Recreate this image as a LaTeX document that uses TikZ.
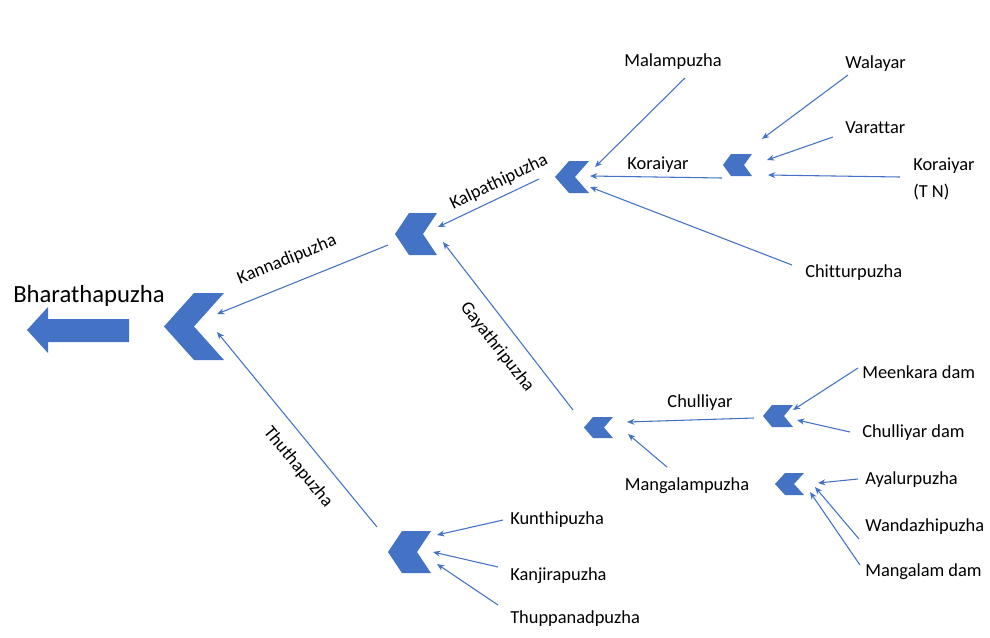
\documentclass[tikz,border=0pt]{standalone}
\usepackage{fontspec}
\setmainfont[Ligatures=NoCommon]{Carlito}
\usetikzlibrary{arrows.meta}
\definecolor{obl}{HTML}{4472C4}
\newcommand\mychev[5]{% x1 x2 y1 y2 depth
  \pgfmathsetmacro\chevmid{(#3+#4)/2}
  \fill[obl] (#1,\chevmid) -- (#1+#5,#3) -- (#2,#3) -- (#2-#5,\chevmid) -- (#2,#4) -- (#1+#5,#4) -- cycle;}
\begin{document}
\begin{tikzpicture}[x=0.75pt,y=-0.75pt,
  flow/.style={draw=obl, line width=0.8pt, -{Stealth[length=5.5pt,width=4.5pt]}},
  lbl/.style={font=\fontsize{13.8}{16}\selectfont, inner sep=0pt, text=black},
  big/.style={font=\fontsize{18.5}{22}\selectfont, inner sep=0pt, text=black}]
\useasboundingbox (0,0) rectangle (990,637);
\fill[white] (0,0) rectangle (990,637);

% main outflow arrow
\fill[obl] (27,330) -- (48,307) -- (48,319) -- (129,319) -- (129,342) -- (48,342) -- (48,353) -- cycle;
\node[big, anchor=west] (bharatha) at (13,296) {Bharathapuzha};

% chevrons (junctions)
\mychev{164}{224}{293}{360}{30}
\mychev{395}{437}{213}{255}{14}
\mychev{555}{589}{161}{193}{14}
\mychev{723}{752}{154}{176}{8}
\mychev{584}{613}{417}{438}{9}
\mychev{763}{793}{405}{427}{9}
\mychev{775}{804}{473}{495}{10}
\mychev{388}{431}{531}{573}{14}

% connector end points
\coordinate (kanS) at (388,245);  \coordinate (kanE) at (217,314);
\coordinate (thuS) at (377,527);  \coordinate (thuE) at (217,332);
\coordinate (kalS) at (539,179);  \coordinate (kalE) at (438,227);
\coordinate (gayS) at (573,410);  \coordinate (gayE) at (443,242);
\coordinate (chuS) at (754,418);  \coordinate (chuE) at (627,422);
\coordinate (manS) at (667,467);  \coordinate (manE) at (628,434);
\coordinate (meeS) at (858,368);  \coordinate (meeE) at (793,410);
\coordinate (cdmS) at (850,432);  \coordinate (cdmE) at (797,420);
\coordinate (ayaS) at (858,479);  \coordinate (ayaE) at (818,483);
\coordinate (wanS) at (859,539);  \coordinate (wanE) at (815,487);
\coordinate (mdmS) at (860,565);  \coordinate (mdmE) at (810,492);
\coordinate (kunS) at (503,520);  \coordinate (kunE) at (437,535);
\coordinate (kajS) at (498,567);  \coordinate (kajE) at (433,552);
\coordinate (tppS) at (498,605);  \coordinate (tppE) at (437,564);
\coordinate (malS) at (685,78);   \coordinate (malE) at (595,167);
\coordinate (walS) at (848,75);   \coordinate (walE) at (762,139);
\coordinate (varS) at (833,137);  \coordinate (varE) at (767,160);
\coordinate (ktnS) at (900,177);  \coordinate (ktnE) at (768,175);
\coordinate (korS) at (722,178);  \coordinate (korE) at (590,176);
\coordinate (chiS) at (792,265);  \coordinate (chiE) at (590,187);

% connectors
\foreach \c in {kan,thu,kal,gay,chu,man,mee,cdm,aya,wan,mdm,kun,kaj,tpp,mal,wal,var,ktn,kor,chi}
  \draw[flow] (\c S) -- (\c E);

% labels along branches
\node[lbl, rotate=22.3] (lkan) at (287,260) {Kannadipuzha};
\node[lbl, rotate=-50.5] (lthu) at (298,467) {Thuthapuzha};
\node[lbl, rotate=25.4] (lkal) at (499,182) {Kalpathipuzha};
\node[lbl, rotate=-52] (lgay) at (497,347) {Gayathripuzha};
\node[lbl] (lchu) at (700,403) {Chulliyar};
\node[lbl] (lman) at (687,486) {Mangalampuzha};
\node[lbl] (lkor) at (658,165) {Koraiyar};
\node[lbl] (lmal) at (673,62) {Malampuzha};

% labels at sources
\node[lbl, anchor=west] (lmee) at (862,372) {Meenkara dam};
\node[lbl, anchor=west] (lcdm) at (862,433) {Chulliyar dam};
\node[lbl, anchor=west] (laya) at (865,480) {Ayalurpuzha};
\node[lbl, anchor=west] (lwan) at (865,527) {Wandazhipuzha};
\node[lbl, anchor=west] (lmdm) at (865,572) {Mangalam dam};
\node[lbl, anchor=west] (lkun) at (510,520) {Kunthipuzha};
\node[lbl, anchor=west] (lkaj) at (510,576) {Kanjirapuzha};
\node[lbl, anchor=west] (ltpp) at (510,619) {Thuppanadpuzha};
\node[lbl, anchor=west] (lwal) at (845,64) {Walayar};
\node[lbl, anchor=west] (lvar) at (845,128) {Varattar};
\node[lbl, anchor=west] (lktn1) at (913,166) {Koraiyar};
\node[lbl, anchor=west] (lktn2) at (913,192) {(T N)};
\node[lbl, anchor=west] (lchi) at (805,273) {Chitturpuzha};
\end{tikzpicture}
\end{document}
